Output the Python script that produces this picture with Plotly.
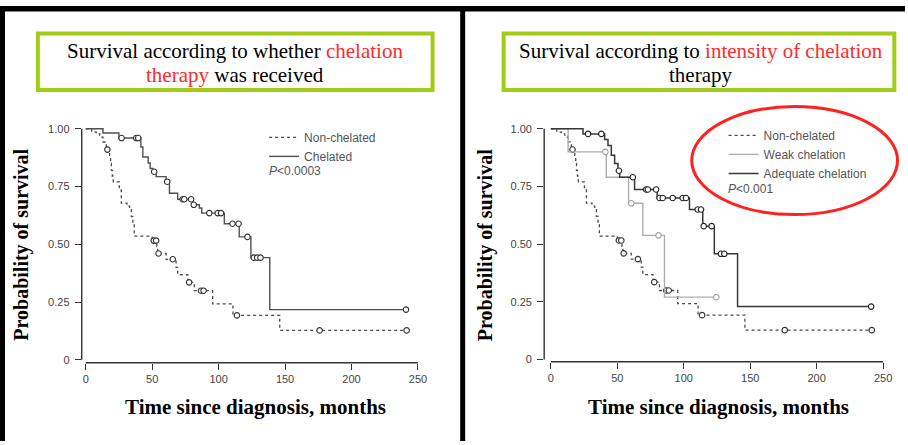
import plotly.graph_objects as go

W, H = 908, 445

# ---------------- data ----------------
x_ticks = [0, 50, 100, 150, 200, 250]
y_ticks = [0, 0.25, 0.5, 0.75, 1.0]
y_tick_text = ["0", "0.25", "0.50", "0.75", "1.00"]

# Non-chelated (same cohort shown in both panels)
nonchel_t = [0, 4.5, 8, 10.5, 13, 15.5, 18, 18.7, 19.3, 20, 20.7, 25.3, 26.8, 31, 33,
             34.3, 35.5, 36.5, 50, 53.5, 54.2, 60.5, 68, 69.2, 76.8, 80.5, 81.7, 95.5,
             110.8, 146]
nonchel_s = [1.0, 0.986, 0.978, 0.964, 0.943, 0.91, 0.885, 0.85, 0.82, 0.795, 0.77, 0.735,
             0.678, 0.665, 0.65, 0.62, 0.592, 0.535, 0.516, 0.49, 0.46, 0.435, 0.40, 0.368,
             0.335, 0.327, 0.299, 0.242, 0.192, 0.127]
nonchel_cens = [16.3, 51.2, 53, 54.8, 65.5, 77.8, 86.8, 88.7, 113.8, 176, 241.5]

# Chelated (left panel)
chel_t = [0, 13, 25, 41.5, 43, 47, 48.5, 50.5, 53, 60.5, 63, 69.2, 80.5, 85.5, 87.3,
          104.3, 115.5, 124.3, 138.5]
chel_s = [1.0, 0.982, 0.96, 0.921, 0.878, 0.852, 0.828, 0.814, 0.793, 0.771, 0.721,
          0.695, 0.671, 0.657, 0.635, 0.589, 0.532, 0.442, 0.217]
chel_cens = [27, 38, 39.5, 51.5, 61.3, 73, 74.2, 79.3, 81.3, 93, 99.3, 101.8, 110.5,
             115, 121.7, 126.5, 129, 131.5, 241]

# Adequate chelation (right panel)
adeq_t = [0, 24.2, 40.5, 43, 45.5, 48, 50.5, 51.8, 63, 80, 104.3, 114.3, 123, 140.5]
adeq_s = [1.0, 0.978, 0.954, 0.928, 0.885, 0.85, 0.818, 0.79, 0.737, 0.70, 0.65, 0.578,
          0.458, 0.229]
adeq_cens = [28, 38, 51.2, 61.7, 71.7, 73, 79.2, 81.8, 84.2, 91.7, 99.2, 101.7, 110.5,
             113, 115, 121, 128, 130.5, 241]

# Weak chelation (right panel)
weak_t = [0, 13, 41.7, 58.5, 69.2, 85.5]
weak_s = [1.0, 0.90, 0.79, 0.677, 0.538, 0.27]
weak_cens = [41, 60.5, 81, 124.5]


# ---------------- helpers ----------------
def surv_at(ts, ss, t):
    s = ss[0]
    for ti, si in zip(ts, ss):
        if ti <= t:
            s = si
        else:
            break
    return s


def km_traces(ts, ss, cens, name, color, dash, width, xa, ya, legend, mcolor):
    end = max(max(cens), ts[-1])
    x = list(ts) + [end]
    y = list(ss) + [ss[-1]]
    line = go.Scatter(x=x, y=y, mode="lines", name=name, xaxis=xa, yaxis=ya,
                      line=dict(shape="hv", color=color, dash=dash, width=width),
                      legend=legend, showlegend=True, hoverinfo="skip")
    cy = [surv_at(ts, ss, c) for c in cens]
    marks = go.Scatter(x=cens, y=cy, mode="markers", xaxis=xa, yaxis=ya, showlegend=False,
                       marker=dict(symbol="circle", size=5.5, color="white",
                                   line=dict(width=1.1, color=mcolor)),
                       hoverinfo="skip", cliponaxis=False)
    return [line, marks]


def px_x(p):
    return p / W


def px_y(p):
    return 1 - p / H


fig = go.Figure()

NC_COL = "#4a4a4a"
for tr in km_traces(nonchel_t, nonchel_s, nonchel_cens, "Non-chelated", NC_COL, "dot", 1.3,
                    "x", "y", "legend", "#333"):
    fig.add_trace(tr)
for tr in km_traces(chel_t, chel_s, chel_cens, "Chelated", "#505050", "solid", 1.4,
                    "x", "y", "legend", "#333"):
    fig.add_trace(tr)

for tr in km_traces(nonchel_t, nonchel_s, nonchel_cens, "Non-chelated", NC_COL, "dot", 1.3,
                    "x2", "y2", "legend2", "#333"):
    fig.add_trace(tr)
for tr in km_traces(weak_t, weak_s, weak_cens, "Weak chelation", "#adadad", "solid", 1.4,
                    "x2", "y2", "legend2", "#a0a0a0"):
    fig.add_trace(tr)
for tr in km_traces(adeq_t, adeq_s, adeq_cens, "Adequate chelation", "#383838", "solid", 1.5,
                    "x2", "y2", "legend2", "#222"):
    fig.add_trace(tr)

tickfont = dict(family="Liberation Sans, Arial", size=11, color="#444")
axis_common = dict(showgrid=False, zeroline=False, showline=False, ticks="outside",
                   ticklen=6, tickwidth=1.2, tickcolor="#333", tickfont=tickfont)

fig.update_layout(
    width=W, height=H, autosize=False,
    margin=dict(l=0, r=0, t=0, b=0),
    paper_bgcolor="white", plot_bgcolor="white",
    xaxis=dict(domain=[px_x(82), px_x(426)], range=[-3.0, 255], anchor="y",
               tickvals=x_ticks, **axis_common),
    yaxis=dict(domain=[px_y(366), px_y(123)], range=[-0.0129, 1.03], anchor="x",
               tickvals=y_ticks, ticktext=y_tick_text, ticklabelstandoff=3, **axis_common),
    xaxis2=dict(domain=[px_x(546), px_x(892.7)], range=[-5.0, 255], anchor="y2",
                tickvals=x_ticks, **axis_common),
    yaxis2=dict(domain=[px_y(365), px_y(123)], range=[-0.0099, 1.03], anchor="x2",
                tickvals=y_ticks, ticktext=y_tick_text, ticklabelstandoff=3, **axis_common),
    legend=dict(x=px_x(265), y=px_y(124), xanchor="left", yanchor="top",
                bgcolor="rgba(0,0,0,0)", borderwidth=0,
                font=dict(family="Liberation Sans, Arial", size=12, color="#555")),
    legend2=dict(x=px_x(726), y=px_y(122), xanchor="left", yanchor="top",
                 bgcolor="rgba(0,0,0,0)", borderwidth=0,
                 font=dict(family="Liberation Sans, Arial", size=12, color="#555")),
    showlegend=True,
)

shapes = []
# detached R-style axis lines spanning the tick range
for xa, ya in (("x", "y"), ("x2", "y2")):
    shapes.append(dict(type="line", xref=xa, yref=ya + " domain", x0=x_ticks[0], x1=x_ticks[-1],
                       y0=0, y1=0, line=dict(color="#333", width=1.4)))
    shapes.append(dict(type="line", xref=xa + " domain", yref=ya, x0=0, x1=0,
                       y0=y_ticks[0], y1=y_ticks[-1], line=dict(color="#333", width=1.4)))

# black frame
shapes.append(dict(type="rect", xref="paper", yref="paper", x0=0, x1=1, y0=px_y(11.7), y1=px_y(6),
                   fillcolor="black", line=dict(width=0)))
shapes.append(dict(type="rect", xref="paper", yref="paper", x0=0, x1=px_x(5), y0=0, y1=px_y(6),
                   fillcolor="black", line=dict(width=0)))
shapes.append(dict(type="rect", xref="paper", yref="paper", x0=px_x(461.7), x1=px_x(466.7), y0=0,
                   y1=px_y(6), fillcolor="black", line=dict(width=0)))

# green title boxes
GREEN = "#a2cc18"
shapes.append(dict(type="rect", xref="paper", yref="paper", x0=px_x(38), x1=px_x(434),
                   y0=px_y(90.7), y1=px_y(33.7), line=dict(color=GREEN, width=4)))
shapes.append(dict(type="rect", xref="paper", yref="paper", x0=px_x(505.3), x1=px_x(897.3),
                   y0=px_y(90.7), y1=px_y(33.7), line=dict(color=GREEN, width=4)))

# red ellipse around right legend
shapes.append(dict(type="circle", xref="paper", yref="paper", x0=px_x(694), x1=px_x(900.5),
                   y0=px_y(216.5), y1=px_y(107.5), line=dict(color="#ff2020", width=3)))

fig.update_layout(shapes=shapes)

RED = "#ff2a2a"
serif = "Liberation Serif, Times New Roman"
ann = []


def add_text(text, x, y, size, family, color="black", xanchor="center", angle=0, bold=False):
    ann.append(dict(text=text, x=px_x(x), y=px_y(y), xref="paper", yref="paper",
                    xanchor=xanchor, yanchor="middle", showarrow=False, textangle=angle,
                    font=dict(family=family, size=size, color=color,
                              weight="bold" if bold else "normal")))


add_text(f"Survival according to whether <span style='color:{RED}'>chelation</span>", 236, 51, 21, serif)
add_text(f"<span style='color:{RED}'>therapy</span> was received", 236, 75.5, 21, serif)
add_text(f"Survival according to <span style='color:{RED}'>intensity of chelation</span>", 703.3, 51, 21, serif)
add_text("therapy", 703.3, 75.5, 21, serif)

add_text("Probability of survival", 22, 247, 20, serif, angle=-90, bold=True)
add_text("Probability of survival", 487, 247, 20, serif, angle=-90, bold=True)
add_text("Time since diagnosis, months", 256, 411, 21, serif, bold=True)
add_text("Time since diagnosis, months", 721, 411, 21, serif, bold=True)

add_text("<i>P</i>&lt;0.0003", 268, 173, 12, "Liberation Sans, Arial", color="#555", xanchor="left")
add_text("<i>P</i>&lt;0.001", 728, 191, 12, "Liberation Sans, Arial", color="#555", xanchor="left")

fig.update_layout(annotations=ann)

fig.write_html("out.html")
